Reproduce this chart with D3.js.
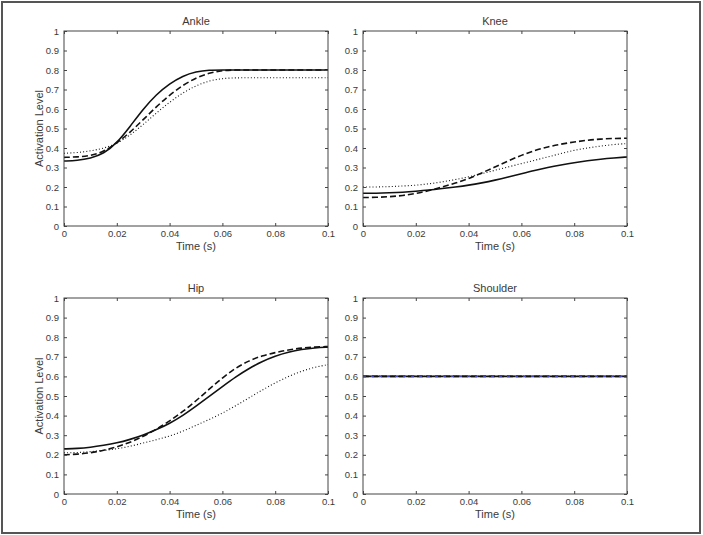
<!DOCTYPE html>
<html>
<head>
<meta charset="utf-8">
<script src="https://cdn.jsdelivr.net/npm/d3@7"></script>
<style>
  body { margin: 0; background: #fff; }
  svg { display: block; font-family: "Liberation Sans", Arial, sans-serif; }
  .tick text { fill: #3a3a3a; font-size: 9.5px; }
  .tick line { stroke: #444; }
  .frame { fill: none; stroke: #444; stroke-width: 1; }
  .ttl, .lbl { fill: #3a3a3a; font-size: 11px; }
</style>
</head>
<body>
<svg id="fig" width="703" height="535"></svg>
<script>
/* ── Data ───────────────────────────────────────────────────────────────── */
const T = [0, 0.005, 0.01, 0.015, 0.02, 0.025, 0.03, 0.035, 0.04, 0.045, 0.05,
           0.055, 0.06, 0.065, 0.07, 0.075, 0.08, 0.085, 0.09, 0.095, 0.1];

const ankleSolid  = [0.333,0.336,0.347,0.370,0.425,0.510,0.600,0.675,0.730,0.770,0.792,0.800,0.800,0.800,0.800,0.800,0.800,0.800,0.800,0.800,0.800];
const ankleDashed = [0.352,0.354,0.360,0.381,0.425,0.480,0.545,0.612,0.672,0.722,0.760,0.785,0.798,0.800,0.800,0.800,0.800,0.800,0.800,0.800,0.800];
const ankleDotted = [0.373,0.376,0.385,0.398,0.422,0.465,0.520,0.580,0.635,0.683,0.720,0.745,0.757,0.760,0.760,0.760,0.760,0.760,0.760,0.760,0.760];

const kneeSolid   = [0.168,0.168,0.170,0.173,0.178,0.184,0.192,0.200,0.209,0.221,0.235,0.251,0.268,0.285,0.300,0.313,0.325,0.335,0.343,0.349,0.354];
const kneeDashed  = [0.146,0.147,0.150,0.156,0.166,0.181,0.200,0.220,0.243,0.272,0.303,0.334,0.363,0.387,0.406,0.420,0.431,0.440,0.446,0.449,0.450];
const kneeDotted  = [0.200,0.200,0.202,0.205,0.209,0.216,0.226,0.238,0.252,0.268,0.286,0.303,0.320,0.337,0.354,0.372,0.389,0.400,0.410,0.418,0.423];

const hipSolid    = [0.230,0.232,0.238,0.248,0.260,0.278,0.300,0.328,0.360,0.400,0.448,0.498,0.548,0.597,0.640,0.676,0.704,0.724,0.738,0.746,0.749];
const hipDashed   = [0.200,0.203,0.210,0.222,0.240,0.263,0.294,0.330,0.372,0.420,0.475,0.535,0.593,0.643,0.680,0.705,0.722,0.735,0.745,0.750,0.752];
const hipDotted   = [0.210,0.211,0.216,0.222,0.230,0.243,0.260,0.277,0.295,0.320,0.350,0.380,0.412,0.450,0.490,0.530,0.567,0.600,0.627,0.647,0.660];

const shoulderSolid  = [0.6,0.6,0.6,0.6,0.6,0.6,0.6,0.6,0.6,0.6,0.6,0.6,0.6,0.6,0.6,0.6,0.6,0.6,0.6,0.6,0.6];
const shoulderDashed = [0.6,0.6,0.6,0.6,0.6,0.6,0.6,0.6,0.6,0.6,0.6,0.6,0.6,0.6,0.6,0.6,0.6,0.6,0.6,0.6,0.6];
const shoulderDotted = [0.6,0.6,0.6,0.6,0.6,0.6,0.6,0.6,0.6,0.6,0.6,0.6,0.6,0.6,0.6,0.6,0.6,0.6,0.6,0.6,0.6];

const titles = ['Ankle', 'Knee', 'Hip', 'Shoulder'];
const xTicks = [0, 0.02, 0.04, 0.06, 0.08, 0.1];
const yTicks = [0, 0.1, 0.2, 0.3, 0.4, 0.5, 0.6, 0.7, 0.8, 0.9, 1];

/* ── Layout ─────────────────────────────────────────────────────────────── */
const panels = [
  { title: titles[0], x0: 64,  x1: 328, y0: 31,  y1: 226, ylab: true,
    series: [ankleDotted, ankleDashed, ankleSolid] },
  { title: titles[1], x0: 363, x1: 627, y0: 31,  y1: 226, ylab: false,
    series: [kneeDotted, kneeDashed, kneeSolid] },
  { title: titles[2], x0: 64,  x1: 328, y0: 298, y1: 494, ylab: true,
    series: [hipDotted, hipDashed, hipSolid] },
  { title: titles[3], x0: 363, x1: 627, y0: 298, y1: 494, ylab: false,
    series: [shoulderDotted, shoulderDashed, shoulderSolid], blue: true },
];

// dotted, dashed, solid
const STYLES = [
  { w: 1.1, dash: '1,2.2', color: '#111' },
  { w: 1.6, dash: '6,3',   color: '#111' },
  { w: 1.6, dash: null,    color: '#111' },
];

const svg = d3.select('#fig');

svg.append('rect')
  .attr('x', 2).attr('y', 2).attr('width', 698).attr('height', 531)
  .attr('fill', 'none').attr('stroke', '#555').attr('stroke-width', 2);

panels.forEach(p => {
  const x = d3.scaleLinear().domain([0, 0.1]).range([p.x0, p.x1]);
  const y = d3.scaleLinear().domain([0, 1]).range([p.y1, p.y0]);
  const g = svg.append('g');

  const line = d3.line()
    .x((d, i) => x(T[i]))
    .y(d => y(d))
    .curve(d3.curveBasis);

  p.series.forEach((s, i) => {
    const st = STYLES[i];
    g.append('path')
      .attr('d', line(s))
      .attr('fill', 'none')
      .attr('stroke', st.color)
      .attr('stroke-width', st.w)
      .attr('stroke-dasharray', st.dash);
  });

  if (p.blue) {
    g.append('path')
      .attr('d', line(p.series[2]))
      .attr('fill', 'none')
      .attr('stroke', '#4a4ad0')
      .attr('stroke-width', 1)
      .attr('stroke-dasharray', '3,5');
  }

  /* Axes: MATLAB-style inward ticks on all four sides */
  const fmt = d => d3.format('~g')(d);

  g.append('g')
    .attr('transform', `translate(0,${p.y1})`)
    .call(d3.axisBottom(x).tickValues(xTicks).tickFormat(fmt)
      .tickSizeInner(-3).tickSizeOuter(0).tickPadding(4))
    .call(a => a.select('.domain').remove());

  g.append('g')
    .attr('transform', `translate(0,${p.y0})`)
    .call(d3.axisTop(x).tickValues(xTicks).tickFormat('')
      .tickSizeInner(-3).tickSizeOuter(0))
    .call(a => a.select('.domain').remove());

  g.append('g')
    .attr('transform', `translate(${p.x0},0)`)
    .call(d3.axisLeft(y).tickValues(yTicks).tickFormat(fmt)
      .tickSizeInner(-3).tickSizeOuter(0).tickPadding(5))
    .call(a => a.select('.domain').remove());

  g.append('g')
    .attr('transform', `translate(${p.x1},0)`)
    .call(d3.axisRight(y).tickValues(yTicks).tickFormat('')
      .tickSizeInner(-3).tickSizeOuter(0))
    .call(a => a.select('.domain').remove());

  g.append('rect').attr('class', 'frame')
    .attr('x', p.x0).attr('y', p.y0)
    .attr('width', p.x1 - p.x0).attr('height', p.y1 - p.y0);

  g.append('text').attr('class', 'ttl')
    .attr('x', (p.x0 + p.x1) / 2).attr('y', p.y0 - 6)
    .attr('text-anchor', 'middle').text(p.title);

  g.append('text').attr('class', 'lbl')
    .attr('x', (p.x0 + p.x1) / 2).attr('y', p.y1 + 24)
    .attr('text-anchor', 'middle').text('Time (s)');

  if (p.ylab) {
    g.append('text').attr('class', 'lbl')
      .attr('transform', `translate(${p.x0 - 21},${(p.y0 + p.y1) / 2}) rotate(-90)`)
      .attr('text-anchor', 'middle').text('Activation Level');
  }
});
</script>
</body>
</html>
